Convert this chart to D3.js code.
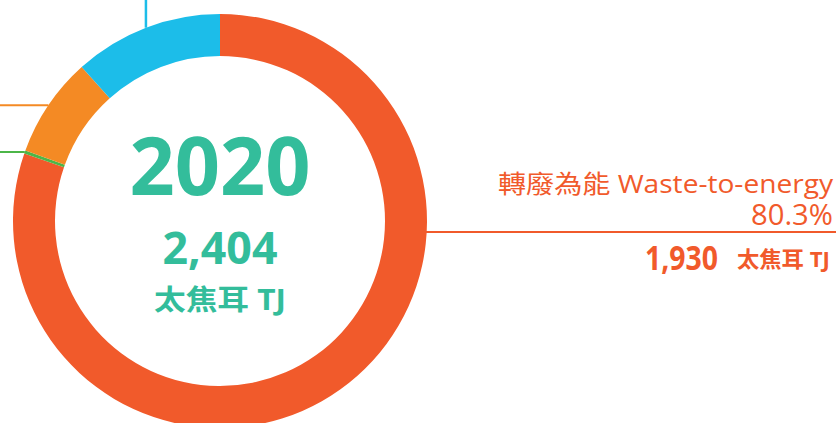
<!DOCTYPE html>
<html>
<head>
<meta charset="utf-8">
<script src="https://cdn.jsdelivr.net/npm/d3@7/dist/d3.min.js"></script>
<style>
  html, body { margin: 0; padding: 0; background: #ffffff; }
  svg { display: block; }
</style>
</head>
<body>
<svg id="chart" width="838" height="423"></svg>
<script>
// ---- data ----
const categories = ["轉廢為能 Waste-to-energy", "綠色", "橙色", "藍色"];
const values = [1930, 6, 188, 280];
const colors = ["#f15a2b", "#4cb648", "#f48a24", "#1cbde9"];
const year = "2020";
const totalLabel = "2,404";
const unitLabel = "太焦耳 TJ";
const mainLabel = "轉廢為能 Waste-to-energy";
const mainPct = "80.3%";
const mainValue = "1,930";

// ---- layout ----
const W = 838, H = 423;
const cx = 220, cy = 221;
const rOuter = 207, rInner = 165;
const teal = "#33bd9b";
const font = "'Open Sans', 'Noto Sans CJK TC', sans-serif";

const svg = d3.select("#chart");
const g = svg.append("g").attr("transform", `translate(${cx},${cy})`);

const pie = d3.pie().sort(null).value(d => d)(values);
const arc = d3.arc().innerRadius(rInner).outerRadius(rOuter);

g.selectAll("path.slice")
  .data(pie)
  .join("path")
  .attr("class", "slice")
  .attr("d", arc)
  .attr("fill", (d, i) => colors[i]);

// ---- leader lines for the small slices (running off the left/top edge) ----
function outerPoint(a) {
  return [rOuter * Math.sin(a), -rOuter * Math.cos(a)];
}
// blue: vertical up
{
  const d = pie[3];
  const p = outerPoint((d.startAngle + d.endAngle) / 2);
  g.append("line").attr("x1", p[0]).attr("y1", p[1])
    .attr("x2", p[0]).attr("y2", -cy)
    .attr("stroke", colors[3]).attr("stroke-width", 2.5);
}
// orange & green: horizontal left
[2, 1].forEach(i => {
  const d = pie[i];
  const p = outerPoint((d.startAngle + d.endAngle) / 2);
  g.append("line").attr("x1", p[0]).attr("y1", p[1])
    .attr("x2", -cx).attr("y2", p[1])
    .attr("stroke", colors[i]).attr("stroke-width", 2);
});

// ---- main label leader (waste-to-energy) ----
const leaderY = 232;
const lx = Math.sqrt(rOuter * rOuter - (leaderY - cy) * (leaderY - cy));
svg.append("line")
  .attr("x1", cx + lx - 2).attr("y1", leaderY)
  .attr("x2", 836).attr("y2", leaderY)
  .attr("stroke", colors[0]).attr("stroke-width", 2.2);

svg.append("text")
  .attr("x", 833).attr("y", 193)
  .attr("text-anchor", "end")
  .attr("font-family", font).attr("font-size", 25)
  .attr("fill", colors[0])
  .attr("textLength", 335).attr("lengthAdjust", "spacingAndGlyphs")
  .text(mainLabel);

svg.append("text")
  .attr("x", 833).attr("y", 225)
  .attr("text-anchor", "end")
  .attr("font-family", font).attr("font-size", 29)
  .attr("fill", colors[0])
  .attr("textLength", 82).attr("lengthAdjust", "spacingAndGlyphs")
  .text(mainPct);

svg.append("text")
  .attr("x", 645).attr("y", 270)
  .attr("font-family", font).attr("font-size", 34).attr("font-weight", 700)
  .attr("fill", colors[0])
  .attr("textLength", 73).attr("lengthAdjust", "spacingAndGlyphs")
  .text(mainValue);

svg.append("text")
  .attr("x", 737).attr("y", 267)
  .attr("font-family", font).attr("font-size", 22).attr("font-weight", 700)
  .attr("fill", colors[0])
  .attr("textLength", 93).attr("lengthAdjust", "spacingAndGlyphs")
  .text(unitLabel);

// ---- centre text ----
svg.append("text")
  .attr("x", cx).attr("y", 195)
  .attr("text-anchor", "middle")
  .attr("font-family", font).attr("font-size", 80).attr("font-weight", 700)
  .attr("fill", teal)
  .attr("textLength", 181).attr("lengthAdjust", "spacingAndGlyphs")
  .text(year);

svg.append("text")
  .attr("x", cx).attr("y", 264)
  .attr("text-anchor", "middle")
  .attr("font-family", font).attr("font-size", 45).attr("font-weight", 700)
  .attr("fill", teal)
  .attr("textLength", 115).attr("lengthAdjust", "spacingAndGlyphs")
  .text(totalLabel);

svg.append("text")
  .attr("x", cx).attr("y", 310)
  .attr("text-anchor", "middle")
  .attr("font-family", font).attr("font-size", 28).attr("font-weight", 700)
  .attr("fill", teal)
  .attr("textLength", 132).attr("lengthAdjust", "spacingAndGlyphs")
  .text(unitLabel);
</script>
</body>
</html>
